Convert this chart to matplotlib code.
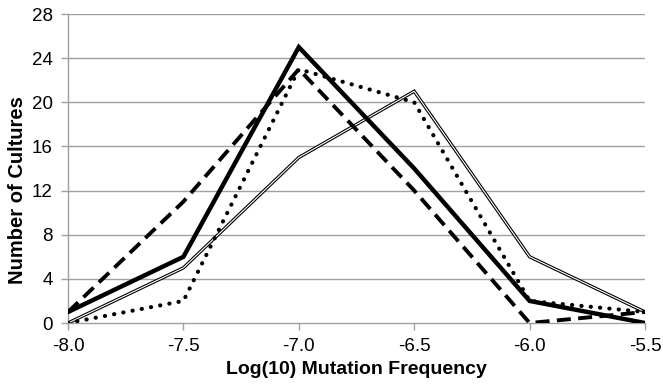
import matplotlib
matplotlib.use("Agg")
import matplotlib.pyplot as plt

plt.rcParams['font.family'] = ['Liberation Sans', 'DejaVu Sans']

# log10 mutation frequency bins
freq = [-8.0, -7.5, -7.0, -6.5, -6.0, -5.5]

# number of cultures per bin, one list per series
solid = [1, 6, 25, 14, 2, 0]
dashed = [1, 11, 23, 12, 0, 1]
dotted = [0, 2, 23, 20, 2, 1]
double = [0, 5, 15, 21, 6, 1]

x_ticks = [-8.0, -7.5, -7.0, -6.5, -6.0, -5.5]
y_ticks = [0, 4, 8, 12, 16, 20, 24, 28]

fig = plt.figure(figsize=(6.63, 3.88), dpi=100)
ax = fig.add_axes([0.1026, 0.1675, 0.8703, 0.7964])

grid_col = '#a0a0a0'
for yv in y_ticks[1:]:
    ax.axhline(yv, color=grid_col, lw=1.0, zorder=1)

# double line: black stroke with a thin white core
ax.plot(freq, double, color='black', lw=2.4, zorder=3, solid_joinstyle='miter')
ax.plot(freq, double, color='white', lw=0.8, zorder=3.1, solid_joinstyle='miter')
ax.plot(freq, dotted, color='black', lw=3.0, linestyle=(0, (0.05, 2.2)),
        dash_capstyle='round', zorder=4)
ax.plot(freq, dashed, color='black', lw=2.8, linestyle=(0, (3.6, 1.9)), zorder=4)
ax.plot(freq, solid, color='black', lw=3.2, zorder=5, solid_joinstyle='miter')

ax.set_xlim(-8.0, -5.5)
ax.set_ylim(0, 28)
ax.set_xticks(x_ticks)
ax.set_xticklabels([f"{v:.1f}" for v in x_ticks])
ax.set_yticks(y_ticks)

for side in ['top', 'right']:
    ax.spines[side].set_visible(False)
for side in ['left', 'bottom']:
    ax.spines[side].set_color(grid_col)
    ax.spines[side].set_linewidth(1.0)

ax.tick_params(axis='both', direction='out', length=5, width=1.0,
               color=grid_col, labelsize=13.5, pad=6)

ax.set_xlabel("Log(10) Mutation Frequency", fontsize=14, fontweight='bold', labelpad=4)
ax.set_ylabel("Number of Cultures", fontsize=14.5, fontweight='bold')
ax.yaxis.set_label_coords(-0.071, 0.43)

fig.savefig("out.png", dpi=100)
